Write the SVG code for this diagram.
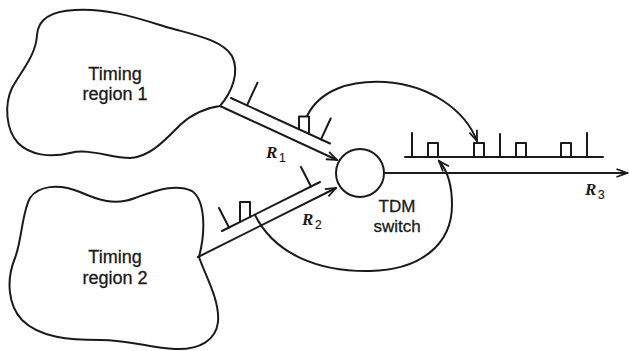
<svg xmlns="http://www.w3.org/2000/svg" width="629" height="351" viewBox="0 0 629 351">
<style>
.ln{fill:none;stroke:#1a1a1a;stroke-width:2;stroke-linecap:round;stroke-linejoin:round}
.cl{fill:#fff;stroke:#1a1a1a;stroke-width:2}
.tx{font-family:"Liberation Sans",Arial,sans-serif;font-size:18px;fill:#1a1a1a;stroke:#1a1a1a;stroke-width:0.3;text-anchor:middle}
.sw{font-family:"Liberation Sans",Arial,sans-serif;font-size:17px;fill:#1a1a1a;stroke:#1a1a1a;stroke-width:0.3;text-anchor:middle}
.r{font-family:"Liberation Serif","Times New Roman",serif;font-style:italic;font-weight:bold;font-size:17px;fill:#1a1a1a}
.sb{font-family:"Liberation Sans",Arial,sans-serif;font-size:12px;fill:#1a1a1a;stroke:#1a1a1a;stroke-width:0.2}
</style>
<defs>
<marker id="arr" markerWidth="13" markerHeight="10" refX="11.5" refY="5" orient="auto" markerUnits="userSpaceOnUse">
<path d="M1,1 L11.5,5 L1,9" fill="none" stroke="#1a1a1a" stroke-width="1.8"/>
</marker>
</defs>
<rect width="629" height="351" fill="#fff"/>
<g id="cloud1">
<path class="cl" d="M220,106 C232,92 240,72 232,56 C222,40 195,35 170,28 C140,19 110,8 75,10 C50,11 38,20 37,35 C36,55 22,70 12,88 C4,105 6,130 18,143 C30,155 50,158 70,153 C90,148 110,158 130,158 C150,157 165,140 180,125 C192,114 205,108 220,106 Z"/>
<text class="tx" x="115" y="80">Timing</text>
<text class="tx" x="115" y="100">region 1</text>
</g>
<g id="cloud2">
<path class="cl" d="M199,257 C205,275 220,300 218,322 C216,340 200,350 175,349 C150,348 130,340 100,340 C70,340 40,338 22,320 C8,305 6,280 15,258 C22,240 22,212 30,198 C38,186 58,183 80,192 C98,200 115,206 135,198 C155,191 175,183 192,191 C205,200 206,230 199,257 Z"/>
<text class="tx" x="115" y="263">Timing</text>
<text class="tx" x="115" y="284">region 2</text>
</g>
<g id="switch">
<circle class="ln" cx="360" cy="173" r="24"/>
<text class="sw" x="397" y="212">TDM</text>
<text class="sw" x="397" y="232">switch</text>
</g>
<g id="connectors">
<path class="ln" d="M220,106 L337,160" marker-end="url(#arr)"/>
<path class="ln" d="M231,98 L330,143.5"/>
<path class="ln" d="M247,105.4 L257.5,82.7 M321,139.4 L330.7,118.5"/>
<path class="ln" d="M299,129.3 L299,116.5 L309,116.5 L309,133.9"/>
<path class="ln" d="M198,257 L336,188" marker-end="url(#arr)"/>
<path class="ln" d="M222,231 L320,182"/>
<path class="ln" d="M229,227.5 L219,208 M311,186.5 L301,167"/>
<path class="ln" d="M240,222 L240,202 L250,202 L250,217"/>
<path class="ln" d="M384,173 L627,173" marker-end="url(#arr)"/>
<path class="ln" d="M405,157 L603,157"/>
<path class="ln" d="M412,157 V133 M500,157 V134 M587,157 V133"/>
<path class="ln" d="M428,157 V143 H438 V157 M474,157 V143 H484 V157 M516,157 V143 H526 V157 M561,157 V143 H571 V157"/>
<path class="ln" d="M307,116 C320,90 350,80 385,82 C430,85 465,110 477,141" marker-end="url(#arr)"/>
<path class="ln" d="M255,215 C275,255 320,272 370,271 C420,270 452,245 452,205 C452,185 447,170 439,161" marker-end="url(#arr)"/>
</g>
<g id="labels">
<text class="r" x="266" y="158">R</text><text class="sb" x="279" y="162">1</text>
<text class="r" x="302" y="225">R</text><text class="sb" x="315" y="229">2</text>
<text class="r" x="585" y="195">R</text><text class="sb" x="598" y="199">3</text>
</g>
</svg>
